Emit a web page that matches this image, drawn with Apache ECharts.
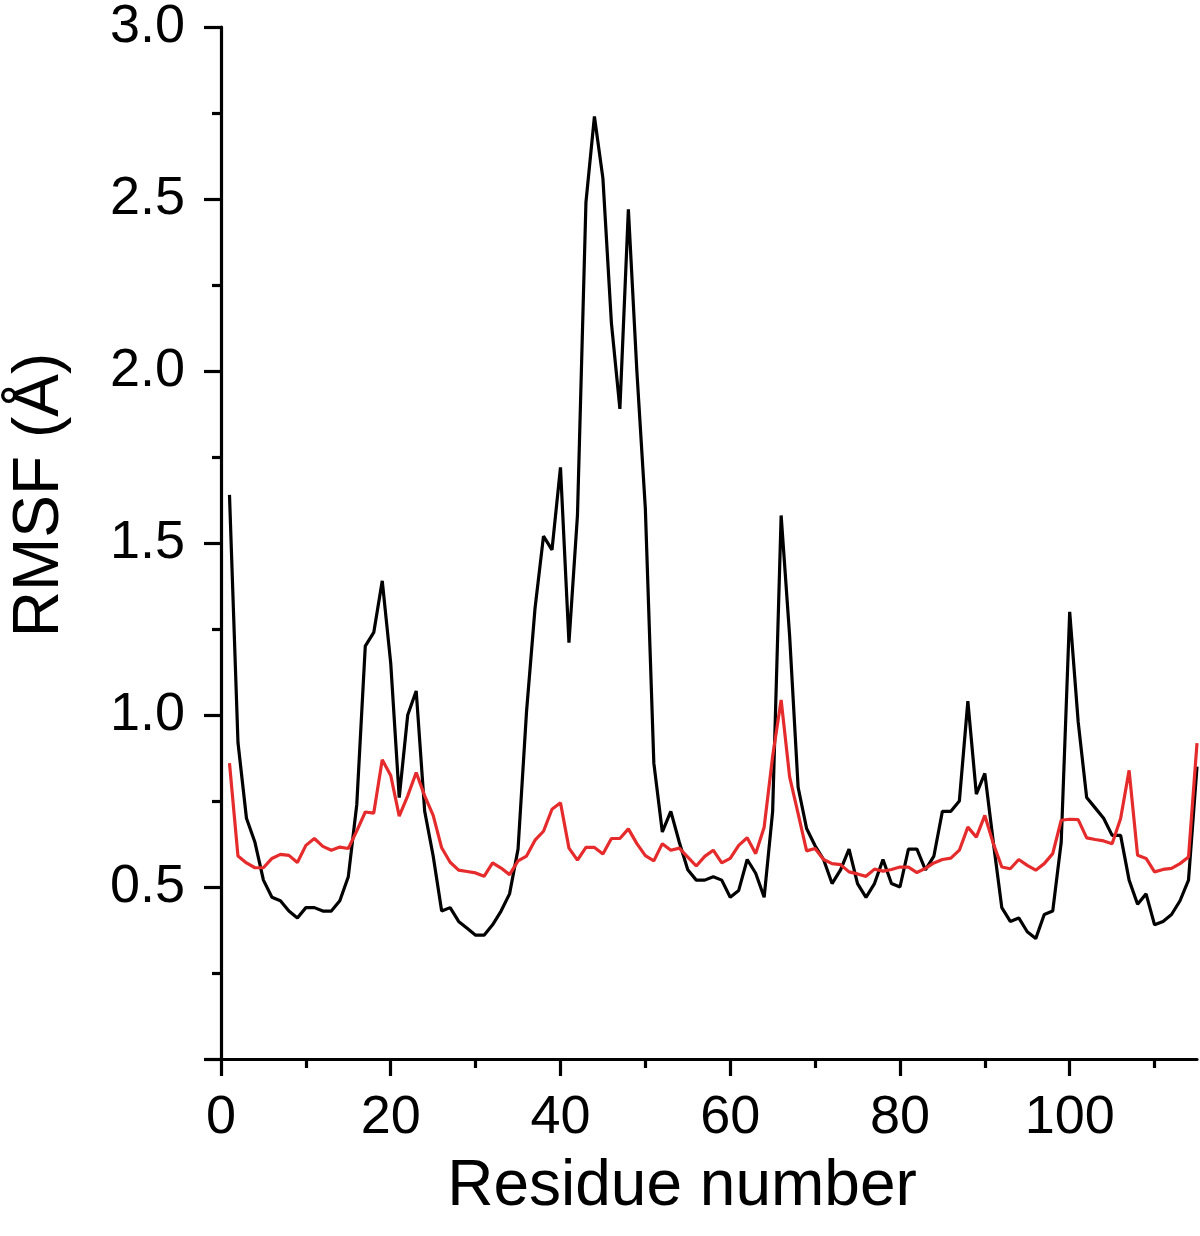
<!DOCTYPE html>
<html>
<head>
<meta charset="utf-8">
<script src="https://cdn.jsdelivr.net/npm/echarts@6/dist/echarts.min.js"></script>
<style>
html,body{margin:0;padding:0;background:#fff;}
#chart{width:1200px;height:1236px;}
</style>
</head>
<body>
<div id="chart"></div>
<script>
// RMSF per residue (1..115)
const blackRMSF = [
  1.64, 0.92, 0.70, 0.63, 0.52, 0.47, 0.46, 0.43, 0.41, 0.44,
  0.44, 0.43, 0.43, 0.46, 0.53, 0.74, 1.20, 1.24, 1.39, 1.15,
  0.76, 1.00, 1.07, 0.72, 0.59, 0.43, 0.44, 0.40, 0.38, 0.36,
  0.36, 0.39, 0.43, 0.48, 0.61, 1.01, 1.31, 1.52, 1.48, 1.72,
  1.21, 1.58, 2.49, 2.74, 2.56, 2.14, 1.89, 2.47, 2.00, 1.60,
  0.86, 0.66, 0.72, 0.63, 0.55, 0.52, 0.52, 0.53, 0.52, 0.47,
  0.49, 0.58, 0.54, 0.47, 0.72, 1.58, 1.23, 0.79, 0.67, 0.62,
  0.58, 0.51, 0.55, 0.61, 0.51, 0.47, 0.51, 0.58, 0.51, 0.50,
  0.61, 0.61, 0.55, 0.59, 0.72, 0.72, 0.75, 1.04, 0.77, 0.83,
  0.63, 0.44, 0.40, 0.41, 0.37, 0.35, 0.42, 0.43, 0.63, 1.30,
  0.98, 0.76, 0.73, 0.70, 0.65, 0.65, 0.52, 0.45, 0.48, 0.39,
  0.40, 0.42, 0.46, 0.52, 0.85
];
const redRMSF = [
  0.86, 0.59, 0.57, 0.556, 0.556, 0.583, 0.595, 0.592, 0.571, 0.621,
  0.641, 0.618, 0.607, 0.616, 0.612, 0.663, 0.718, 0.715, 0.87, 0.824,
  0.706, 0.765, 0.833, 0.765, 0.708, 0.614, 0.572, 0.549, 0.545, 0.541,
  0.531, 0.57, 0.555, 0.536, 0.576, 0.59, 0.636, 0.662, 0.726, 0.745,
  0.613, 0.578, 0.615, 0.615, 0.596, 0.641, 0.641, 0.669, 0.626, 0.591,
  0.576, 0.626, 0.607, 0.613, 0.587, 0.561, 0.589, 0.607, 0.57, 0.583,
  0.621, 0.643, 0.597, 0.674, 0.88, 1.044, 0.82, 0.713, 0.605, 0.612,
  0.58, 0.568, 0.565, 0.544, 0.538, 0.531, 0.552, 0.546, 0.551, 0.558,
  0.558, 0.542, 0.554, 0.57, 0.58, 0.584, 0.607, 0.674, 0.645, 0.708,
  0.626, 0.558, 0.553, 0.58, 0.563, 0.549, 0.568, 0.597, 0.694, 0.697,
  0.696, 0.643, 0.638, 0.634, 0.626, 0.699, 0.839, 0.592, 0.583, 0.544,
  0.551, 0.554, 0.568, 0.587, 0.918
];
const xMajorTicks = [0, 20, 40, 60, 80, 100];
const xMinorTicks = [10, 30, 50, 70, 90, 110];
const xMax = 115;
const yMax = 3.0;
const yInterval = 0.5;
const xName = 'Residue number';
const yName = 'RMSF (Å)';

const FONT = "'Liberation Sans', Arial, Helvetica, sans-serif";
const chart = echarts.init(document.getElementById('chart'), null, {renderer: 'canvas'});
const toPairs = arr => arr.map((v, i) => [i + 1, v]);

chart.setOption({
  backgroundColor: '#ffffff',
  animation: false,
  grid: {left: 221, right: 3, top: 25, bottom: 177, containLabel: false},
  xAxis: [{
    type: 'value', min: 0, max: xMax, position: 'bottom',
    name: xName, nameLocation: 'middle', nameGap: 96,
    nameTextStyle: {fontFamily: FONT, fontSize: 64, color: '#000', padding: [0, 54, 0, 0]},
    axisLine: {show: true, onZero: false, lineStyle: {color: '#000', width: 3.2}},
    axisTick: {show: true, customValues: xMajorTicks, length: 17, lineStyle: {color: '#000', width: 3.2}},
    axisLabel: {show: true, customValues: xMajorTicks, margin: 32, fontFamily: FONT, fontSize: 54, color: '#000'},
    splitLine: {show: false}
  }, {
    type: 'value', min: 0, max: xMax, position: 'bottom',
    axisLine: {show: false, onZero: false},
    axisTick: {show: true, customValues: xMinorTicks, length: 9, lineStyle: {color: '#000', width: 3.2}},
    axisLabel: {show: false},
    splitLine: {show: false}
  }],
  yAxis: {
    type: 'value', min: 0, max: yMax, interval: yInterval,
    name: yName, nameLocation: 'middle', nameGap: 149,
    nameTextStyle: {fontFamily: FONT, fontSize: 64, color: '#000', padding: [0, 0, 0, 96]},
    axisLine: {show: true, onZero: false, lineStyle: {color: '#000', width: 3.2}},
    axisTick: {show: true, length: 17, lineStyle: {color: '#000', width: 3.2}},
    minorTick: {show: true, splitNumber: 2, length: 9, lineStyle: {color: '#000', width: 3.2}},
    axisLabel: {margin: 36, fontFamily: FONT, fontSize: 54, color: '#000',
      formatter: v => (v === 0 ? '' : v.toFixed(1))},
    splitLine: {show: false},
    minorSplitLine: {show: false}
  },
  series: [{
    type: 'line', name: 'black', xAxisIndex: 0, data: toPairs(blackRMSF),
    showSymbol: false, lineStyle: {color: '#000000', width: 3.2}, z: 2
  }, {
    type: 'line', name: 'red', xAxisIndex: 0, data: toPairs(redRMSF),
    showSymbol: false, lineStyle: {color: '#e52b2b', width: 3.2}, z: 3
  }]
});
</script>
</body>
</html>
